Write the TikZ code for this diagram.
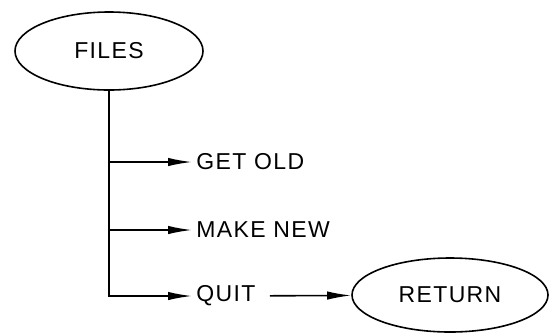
\documentclass[tikz,border=0pt]{standalone}
\usepackage{fontspec}
\setmainfont{Liberation Sans}[LetterSpace=6]
\usepackage{tikz}
\usetikzlibrary{shapes.geometric, arrows.meta, positioning}

\begin{document}
\begin{tikzpicture}[
    x=0.5pt, y=-0.5pt,
    every node/.style={font=\fontsize{11.5}{13}\selectfont},
    menu/.style={ellipse, draw=black, line width=0.8pt, inner sep=0pt},
    item/.style={anchor=west, inner sep=2pt},
    arr/.style={-{Latex[length=12pt,width=4.2pt]}, line width=0.8pt}
  ]
  \useasboundingbox (0,0) rectangle (550,333);

  \node[menu, minimum width=94pt, minimum height=39pt] (files) at (109,51) {FILES};

  \node[item] (getold)  at (192,162) {GET OLD};
  \node[item] (makenew) at (192,230) {MAKE NEW};
  \node[item] (quit)    at (192,296) {QUIT};

  \node[menu, minimum width=98pt, minimum height=37pt] (return) at (450,295) {RETURN};

  %% Menu choices
  \draw[arr] (files.south) |- (getold.west);
  \draw[arr] (files.south) |- (makenew.west);
  \draw[arr] (files.south) |- (quit.west);

  %% Back out
  \draw[arr, shorten <=5pt] (quit) -- (return);
\end{tikzpicture}
\end{document}
